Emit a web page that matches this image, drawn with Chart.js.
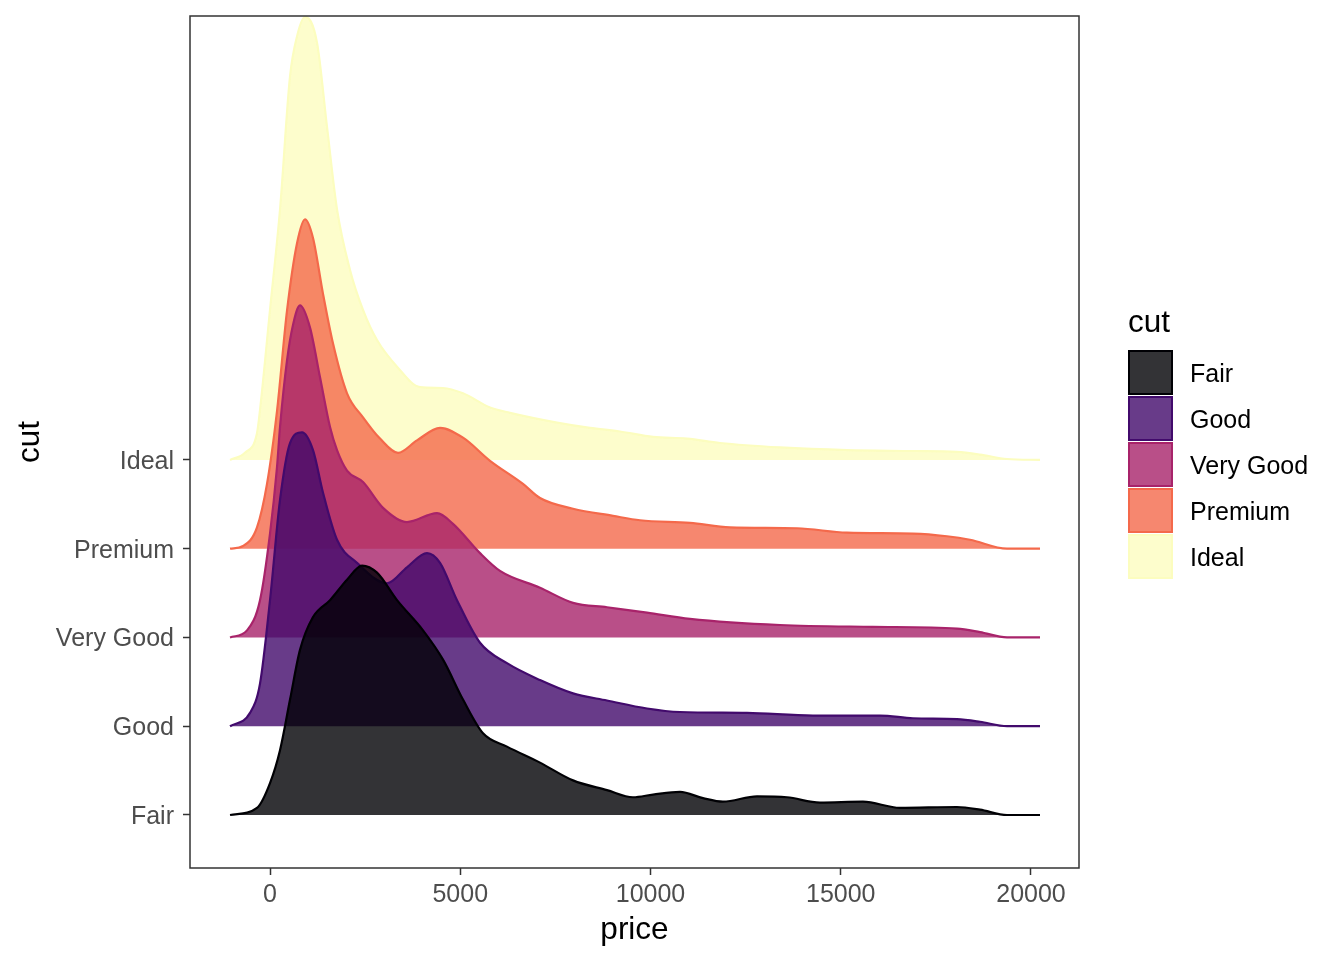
<!DOCTYPE html>
<html>
<head>
<meta charset="utf-8">
<script src="https://cdn.jsdelivr.net/npm/chart.js@4.4.1/dist/chart.umd.min.js"></script>
<style>
html,body{margin:0;padding:0;background:#fff;}
canvas{display:block;}
</style>
</head>
<body>
<canvas id="c" width="1344" height="960"></canvas>
<script>
// ---- data ----
const categories = ['Fair', 'Good', 'Very Good', 'Premium', 'Ideal'];
const xTickValues = [0, 5000, 10000, 15000, 20000];

const fairPrice  = [-1051,-342,0,263,526,788,1130,1577,2024,2418,2812,3338,4021,4547,5072,5598,6228,7096,7963,8856,9540,10066,10775,11380,11905,12799,13587,14454,15584,16556,18055,18660,19370,20237];
const fairHeight = [0,0.08,0.36,0.73,1.30,1.86,2.23,2.42,2.65,2.81,2.73,2.42,2.08,1.75,1.30,0.92,0.77,0.59,0.39,0.28,0.20,0.23,0.26,0.19,0.15,0.21,0.20,0.14,0.15,0.08,0.09,0.06,0.0,0];

const goodPrice  = [-1051,-526,-263,0,263,526,841,1130,1393,1761,2286,3075,3600,4126,4468,4914,5519,6228,7096,7963,8856,9908,10775,12536,14270,16031,16899,18055,18660,19370,20237];
const goodHeight = [0,0.15,0.48,1.42,2.55,3.19,3.31,3.11,2.63,2.10,1.84,1.61,1.79,1.95,1.84,1.42,0.94,0.71,0.52,0.37,0.29,0.20,0.16,0.15,0.12,0.12,0.09,0.08,0.05,0.0,0];

const veryGoodPrice  = [-1051,-604,-263,0,184,263,447,604,788,1051,1314,1577,1761,2024,2444,2970,3600,4389,4809,5519,6044,7096,7963,8856,9908,11038,13403,15847,18055,18660,19370,20237];
const veryGoodHeight = [0,0.08,0.42,1.17,1.92,2.37,3.12,3.52,3.74,3.49,2.93,2.37,2.11,1.88,1.75,1.46,1.30,1.40,1.28,0.95,0.75,0.56,0.39,0.34,0.28,0.21,0.14,0.12,0.10,0.06,0.0,0];

const premiumPrice  = [-1051,-710,-342,-79,184,447,710,920,1130,1393,1656,2024,2444,2891,3364,3863,4468,5072,5782,6649,7096,7963,9014,9724,11038,12089,13850,15164,16899,17791,18396,19370,20237];
const premiumHeight = [0,0.03,0.24,0.73,1.55,2.68,3.44,3.71,3.50,2.87,2.31,1.75,1.48,1.24,1.08,1.22,1.36,1.25,0.99,0.73,0.57,0.45,0.37,0.32,0.29,0.24,0.23,0.18,0.17,0.14,0.10,0.0,0];

const idealPrice  = [-1051,-657,-342,-263,0,263,526,710,920,1235,1498,1761,2102,2444,2812,3338,3942,4547,5072,5782,6307,7543,8410,9198,10066,10960,11827,13403,15164,16899,18055,18660,19370,20237];
const idealHeight = [0,0.08,0.30,0.56,1.69,2.82,4.32,4.77,4.99,4.70,3.75,2.82,2.14,1.69,1.35,1.05,0.82,0.81,0.75,0.59,0.53,0.42,0.36,0.32,0.26,0.24,0.19,0.14,0.11,0.10,0.09,0.06,0.01,0];

const seriesPrices  = [fairPrice, goodPrice, veryGoodPrice, premiumPrice, idealPrice];
const seriesHeights = [fairHeight, goodHeight, veryGoodHeight, premiumHeight, idealHeight];

// ---- styles ----
const lineColors = ['#000004', '#420A6C', '#A8236A', '#F4694B', '#FCFDBF'];
const fillAlpha = 0.8;
function withAlpha(hex, a) {
  const r = parseInt(hex.slice(1,3),16), g = parseInt(hex.slice(3,5),16), b = parseInt(hex.slice(5,7),16);
  return `rgba(${r},${g},${b},${a})`;
}
const FONT = '"Liberation Sans", Arial, Helvetica, sans-serif';

const datasets = categories.map((name, i) => ({
  label: name,
  data: seriesPrices[i].map((p, k) => ({ x: p, y: (i + 1) + seriesHeights[i][k] })),
  borderColor: lineColors[i],
  backgroundColor: withAlpha(lineColors[i], fillAlpha),
  borderWidth: 2.2,
  pointRadius: 0,
  cubicInterpolationMode: 'monotone',
  fill: { value: i + 1 }
}));

const panelBorder = {
  id: 'panelBorder',
  afterDraw(chart) {
    const { ctx, chartArea: a } = chart;
    ctx.save();
    ctx.strokeStyle = '#333333';
    ctx.lineWidth = 1.5;
    ctx.strokeRect(a.left, a.top, a.right - a.left, a.bottom - a.top);
    ctx.restore();
  }
};

const customLegend = {
  id: 'customLegend',
  afterDraw(chart) {
    const ctx = chart.ctx;
    ctx.save();
    ctx.fillStyle = '#000';
    ctx.font = `31.5px ${FONT}`;
    ctx.textBaseline = 'alphabetic';
    ctx.textAlign = 'left';
    ctx.fillText('cut', 1128, 332);
    const x0 = 1128, y0 = 350, size = 45, step = 46;
    chart.data.datasets.forEach((ds, i) => {
      const y = y0 + i * step;
      ctx.fillStyle = '#ffffff';
      ctx.fillRect(x0, y, size, size);
      ctx.fillStyle = ds.backgroundColor;
      ctx.fillRect(x0, y, size, size);
      ctx.strokeStyle = ds.borderColor;
      ctx.lineWidth = 2;
      ctx.strokeRect(x0 + 1, y + 1, size - 2, size - 2);
      ctx.fillStyle = '#000';
      ctx.font = `25px ${FONT}`;
      ctx.textBaseline = 'middle';
      ctx.fillText(ds.label, 1190, y + size / 2 + 3);
    });
    ctx.restore();
  }
};

new Chart(document.getElementById('c'), {
  type: 'line',
  data: { datasets },
  options: {
    responsive: false,
    animation: false,
    layout: { padding: { top: 16, right: 265, bottom: 0, left: 0 } },
    plugins: { legend: { display: false }, tooltip: { enabled: false } },
    scales: {
      x: {
        type: 'linear',
        min: -2103,
        max: 21262,
        afterBuildTicks: s => { s.ticks = xTickValues.map(v => ({ value: v })); },
        afterFit: s => { s.height = 92; s.paddingLeft = 0; s.paddingRight = 0; },
        border: { display: false },
        grid: { display: true, drawOnChartArea: false, drawTicks: true, tickLength: 7, tickColor: '#333333', tickWidth: 1.5 },
        ticks: { autoSkip: false, maxRotation: 0, padding: 5, color: '#4D4D4D', font: { family: FONT, size: 25 }, callback: v => String(v) },
        title: { display: true, text: 'price', color: '#000', font: { family: FONT, size: 31.5, lineHeight: 1.2 }, padding: { top: 0, bottom: 11 } }
      },
      y: {
        type: 'linear',
        min: 0.403,
        max: 10.0,
        afterBuildTicks: s => { s.ticks = categories.map((c, i) => ({ value: i + 1 })); },
        afterFit: s => { s.width = 190; s.paddingTop = 0; s.paddingBottom = 0; },
        border: { display: false },
        grid: { display: true, drawOnChartArea: false, drawTicks: true, tickLength: 7, tickColor: '#333333', tickWidth: 1.5 },
        ticks: { autoSkip: false, padding: 9, labelOffset: 2, color: '#4D4D4D', font: { family: FONT, size: 25 }, callback: v => categories[Math.round(v) - 1] || '' },
        title: { display: true, text: 'cut', color: '#000', font: { family: FONT, size: 31.5, lineHeight: 1.2 }, padding: { top: 11, bottom: 0 } }
      }
    }
  },
  plugins: [panelBorder, customLegend]
});
</script>
</body>
</html>
